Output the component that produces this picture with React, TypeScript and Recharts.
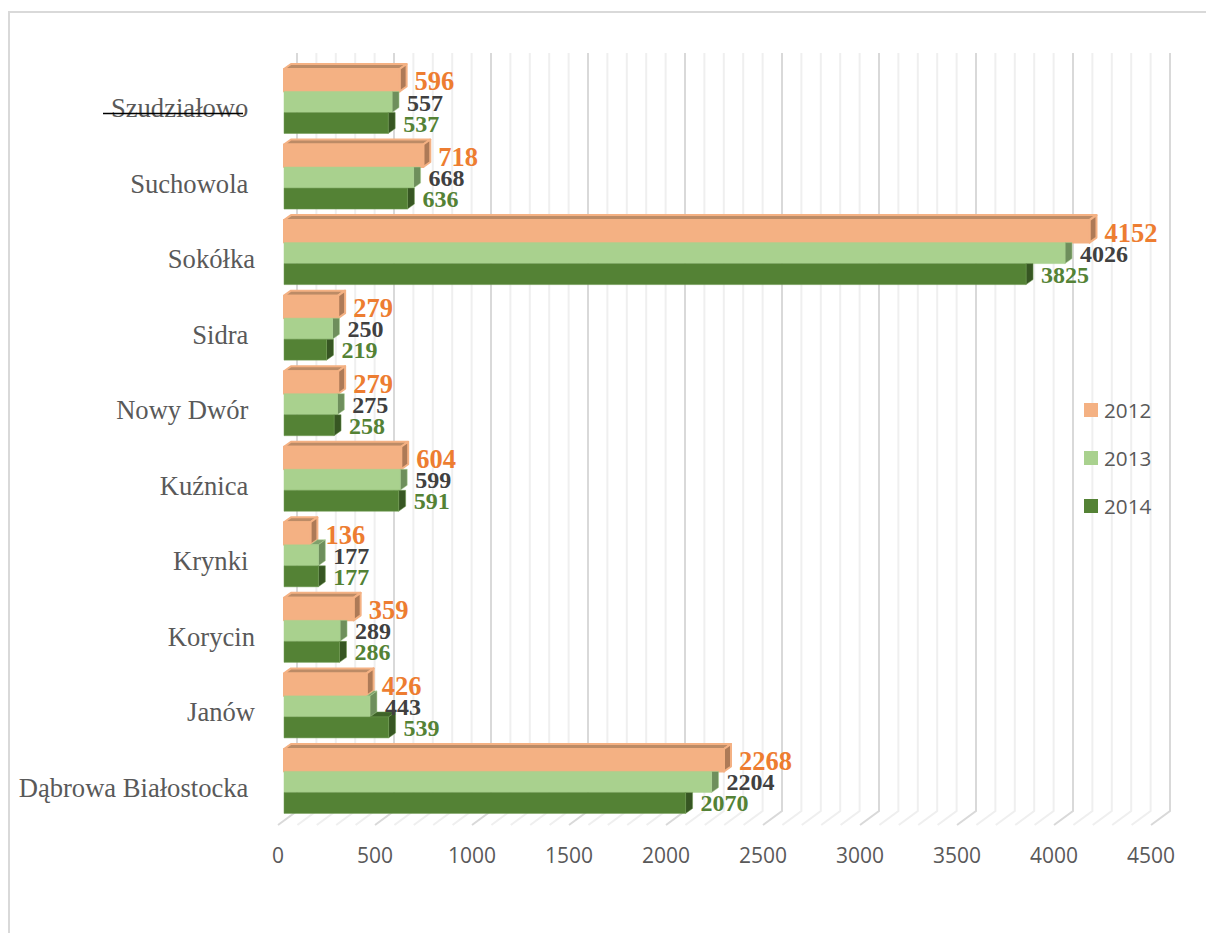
import { Bar, BarChart, CartesianGrid, LabelList, Legend, XAxis, YAxis } from "recharts"

// nbsp at the end of some names: the source labels end at two different x positions
const categories = [
  "Szudziałowo\u00a0",
  "Suchowola\u00a0",
  "Sokółka",
  "Sidra\u00a0",
  "Nowy Dwór\u00a0",
  "Kuźnica\u00a0",
  "Krynki\u00a0",
  "Korycin",
  "Janów",
  "Dąbrowa Białostocka\u00a0",
]
const values2012 = [596, 718, 4152, 279, 279, 604, 136, 359, 426, 2268]
const values2013 = [557, 668, 4026, 250, 275, 599, 177, 289, 443, 2204]
const values2014 = [537, 636, 3825, 219, 258, 591, 177, 286, 539, 2070]

const struckLabel = "Szudziałowo\u00a0"
const axisTicks = [0, 500, 1000, 1500, 2000, 2500, 3000, 3500, 4000, 4500]
const gridTicks = Array.from({ length: 46 }, (_, i) => i * 100)

const data = categories.map((name, i) => ({
  name,
  y2012: values2012[i],
  y2013: values2013[i],
  y2014: values2014[i],
}))

const SERIF = "'Liberation Serif', serif"
const SANS = "'Open Sans', sans-serif"
const DEPTH_X = 7
const DEPTH_Y = 5

const legendColors: any = { "2012": "#F4B183", "2013": "#A9D18E", "2014": "#548235" }

const poly = (pts: number[][]) => pts.map((p) => p.join(",")).join(" ")

// front, top and side faces of a fake 3D bar. Faces hidden by the bar above are cut off.
const makeBox = (aboveKey: string | null, front: string, top: string, side: string, stroke: string, sw: number, lift = 0) =>
  (props: any) => {
    const { x, width, payload, value } = props
    const y = props.y - lift
    const height = props.height + lift
    const val = Array.isArray(value) ? value[1] : value
    const above = aboveKey ? payload[aboveKey] : 0
    const right = x + width
    const topStart = x + (width * above) / val
    const common = { stroke, strokeWidth: sw, strokeLinejoin: "round" as const }
    return (
      <g>
        {above < val && (
          <polygon
            points={poly([
              [topStart, y],
              [right, y],
              [right + DEPTH_X, y - DEPTH_Y],
              [topStart + DEPTH_X, y - DEPTH_Y],
            ])}
            fill={top}
            {...common}
          />
        )}
        <polygon
          points={poly(
            above < val
              ? [
                  [right, y],
                  [right + DEPTH_X, y - DEPTH_Y],
                  [right + DEPTH_X, y + height - DEPTH_Y],
                  [right, y + height],
                ]
              : [
                  [right, y],
                  [right + DEPTH_X, y],
                  [right + DEPTH_X, y + height - DEPTH_Y],
                  [right, y + height],
                ]
          )}
          fill={side}
          {...common}
        />
        <rect x={x} y={y} width={width} height={height} fill={front} {...common} />
      </g>
    )
  }

// wall line plus slanted floor line, one per grid value
const GridLine = (props: any) => {
  const x = props.x1
  const major = Math.round(x - 284) % 97 < 1 || Math.round(x - 284) % 97 > 96
  return (
    <polyline
      key={props.key}
      points={poly([
        [x + 13, 53],
        [x + 13, 811],
        [x - 6, 825],
      ])}
      fill="none"
      stroke={major ? "#D9D9D9" : "#EFEFEF"}
      strokeWidth={2}
    />
  )
}

const ValueTick = ({ x, payload }: any) => (
  <text x={x - 6} y={863} textAnchor="middle" fontFamily={SANS} fontSize={21} fill="#595959">
    {payload.value}
  </text>
)

const CategoryTick = ({ y, payload }: any) => (
  <g>
    <text x={255} y={y + 14.5} textAnchor="end" fontFamily={SERIF} fontSize={26.6} fill="#595959">
      {payload.value}
    </text>
    {payload.value === struckLabel && <line x1={103} x2={243} y1={y + 11} y2={y + 11} stroke="#000" strokeWidth={1.5} />}
  </g>
)

const LegendBox = ({ payload }: any) => (
  <div>
    {(payload || []).map((item: any) => (
      <div key={item.value} style={{ height: 48, display: "flex", alignItems: "center" }}>
        <span style={{ width: 14, height: 14, background: legendColors[item.value], marginRight: 6 }} />
        <span style={{ fontFamily: SANS, fontSize: 20.7, color: "#595959" }}>{item.value}</span>
      </div>
    ))}
  </div>
)

export default function App() {
  return (
    <div style={{ position: "absolute", left: 0, top: 0, width: 1206, height: 933, background: "#fff", overflow: "hidden" }}>
      <div
        style={{
          position: "absolute",
          left: 8,
          top: 11,
          width: 1198,
          height: 922,
          borderLeft: "2px solid #D9D9D9",
          borderTop: "2px solid #D9D9D9",
        }}
      />
      <div style={{ position: "absolute", left: 0, top: 0 }}>
        <BarChart
          width={1206}
          height={933}
          data={data}
          layout="vertical"
          margin={{ top: 64.75, right: 49, bottom: 52.75, left: 0 }}
          barCategoryGap={5.75}
          barGap={0}
        >
          <CartesianGrid horizontal={false} verticalValues={gridTicks} syncWithTicks={false} vertical={GridLine} />
          <XAxis
            type="number"
            domain={[0, 4500]}
            ticks={axisTicks}
            interval={0}
            height={60}
            axisLine={false}
            tickLine={false}
            tick={<ValueTick />}
          />
          <YAxis
            type="category"
            dataKey="name"
            width={284}
            interval={0}
            axisLine={false}
            tickLine={false}
            tick={<CategoryTick />}
          />
          <Legend
            layout="vertical"
            align="center"
            verticalAlign="middle"
            content={<LegendBox />}
            wrapperStyle={{ left: 1084, top: 386, width: 110, height: 144 }}
          />
          <Bar
            dataKey="y2012"
            name="2012"
            fill="#F4B183"
            isAnimationActive={false}
            shape={makeBox(null, "#F4B183", "#BC8B66", "#AD7A57", "#F4B183", 2, 1.5)}
          >
            <LabelList
              dataKey="y2012"
              position="right"
              offset={15}
              fill="#ED7D31"
              fontFamily={SERIF}
              fontWeight="bold"
              fontSize={26.5}
            />
          </Bar>
          <Bar
            dataKey="y2013"
            name="2013"
            fill="#A9D18E"
            isAnimationActive={false}
            shape={makeBox("y2012", "#A9D18E", "#7F9F6B", "#6E8F5C", "#A9D18E", 0.5)}
          >
            <LabelList
              dataKey="y2013"
              position="right"
              offset={15}
              fill="#404040"
              fontFamily={SERIF}
              fontWeight="bold"
              fontSize={24}
            />
          </Bar>
          <Bar
            dataKey="y2014"
            name="2014"
            fill="#548235"
            isAnimationActive={false}
            shape={makeBox("y2013", "#548235", "#3F6428", "#375623", "#6F9A50", 0.5)}
          >
            <LabelList
              dataKey="y2014"
              position="right"
              offset={15}
              fill="#548235"
              fontFamily={SERIF}
              fontWeight="bold"
              fontSize={24}
            />
          </Bar>
        </BarChart>
      </div>
    </div>
  )
}
